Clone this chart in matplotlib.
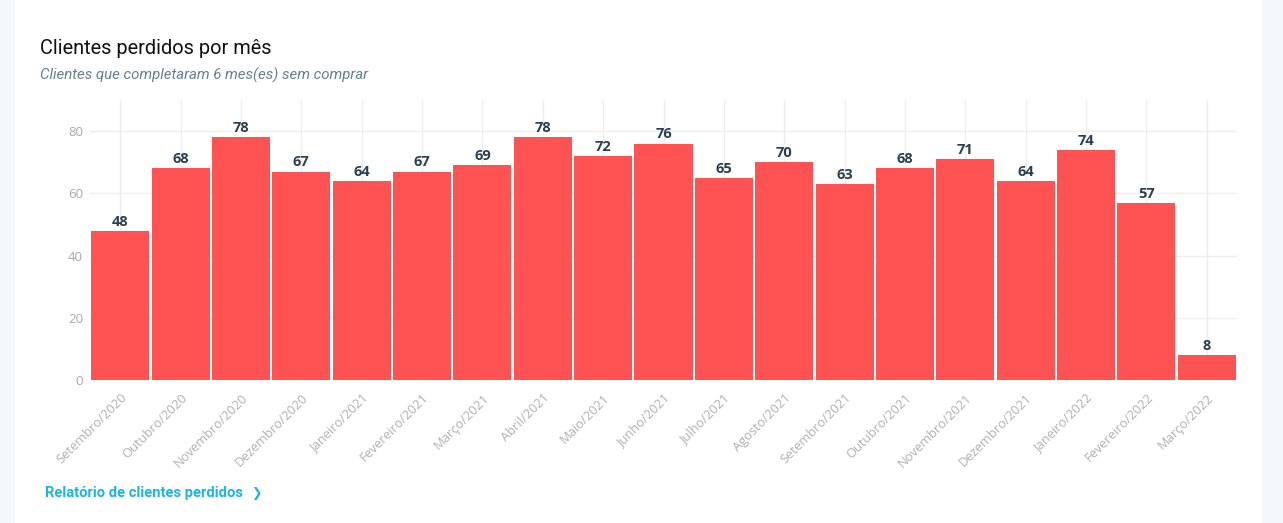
import matplotlib
matplotlib.use("Agg")
import matplotlib.pyplot as plt
from matplotlib.patches import Rectangle

months = ["Setembro/2020", "Outubro/2020", "Novembro/2020", "Dezembro/2020",
          "Janeiro/2021", "Fevereiro/2021", "Março/2021", "Abril/2021",
          "Maio/2021", "Junho/2021", "Julho/2021", "Agosto/2021",
          "Setembro/2021", "Outubro/2021", "Novembro/2021", "Dezembro/2021",
          "Janeiro/2022", "Fevereiro/2022", "Março/2022"]
values = [48, 68, 78, 67, 64, 67, 69, 78, 72, 76, 65, 70, 63, 68, 71, 64, 74, 57, 8]
yticks = [0, 20, 40, 60, 80]

title = "Clientes perdidos por mês"
subtitle = "Clientes que completaram 6 mes(es) sem comprar"
link = "Relatório de clientes perdidos"

W, H = 1283, 523
fig = plt.figure(figsize=(W / 100, H / 100), dpi=100)
fig.patch.set_facecolor("#f5f8fb")
fig.patches.append(Rectangle((15 / W, 0), (1262 - 15) / W, 1, transform=fig.transFigure,
                             facecolor="white", edgecolor="none", zorder=-5))

ax = fig.add_axes([90 / W, 1 - 380 / H, (1237 - 90) / W, (380 - 100) / H])
ax.set_zorder(3)
ax.set_facecolor("white")
x = list(range(len(values)))
ax.bar(x, values, width=0.962, color="#ff5252", zorder=3)
ax.set_xlim(-0.5, len(values) - 0.5)
ax.set_ylim(0, 90)
for xi, v in zip(x, values):
    ax.annotate(str(v), (xi, v), xytext=(0, 1.5), textcoords="offset points",
                ha="center", va="bottom", fontsize=10.5,
                fontweight="bold", color="#2a3f4f", family="Open Sans", zorder=4)

ax.set_yticks(yticks)
ax.set_yticklabels([str(t) for t in yticks], family="Open Sans", fontsize=9.5, color="#a9a9a9")
ax.set_xticks(x)
ax.set_xticklabels(months, rotation=45, ha="right", rotation_mode="anchor",
                   family="Open Sans", fontsize=9.3, color="#b0b0b0")
ax.tick_params(axis="both", length=0)
ax.tick_params(axis="y", pad=5)
ax.tick_params(axis="x", pad=8)
ax.grid(True, color="#eeeeee", linewidth=1, zorder=0)
ax.set_axisbelow(True)
for s in ax.spines.values():
    s.set_visible(False)

fig.text(40 / W, 1 - 48 / H, title, family="Roboto", fontsize=14.4, color="#111111", va="center")
fig.text(40 / W, 1 - 75 / H, subtitle, family="Roboto", style="italic", fontsize=10.8,
         color="#667f90", va="center")
fig.text(45 / W, 1 - 493 / H, link, family="Roboto", fontweight="bold", fontsize=10.6,
         color="#19b5e6", va="center")
fig.text(251 / W, 1 - 493 / H, "❯", family="DejaVu Sans", fontweight="bold", fontsize=9,
         color="#19b5e6", va="center")

fig.savefig("out.png", dpi=100, facecolor=fig.get_facecolor())
